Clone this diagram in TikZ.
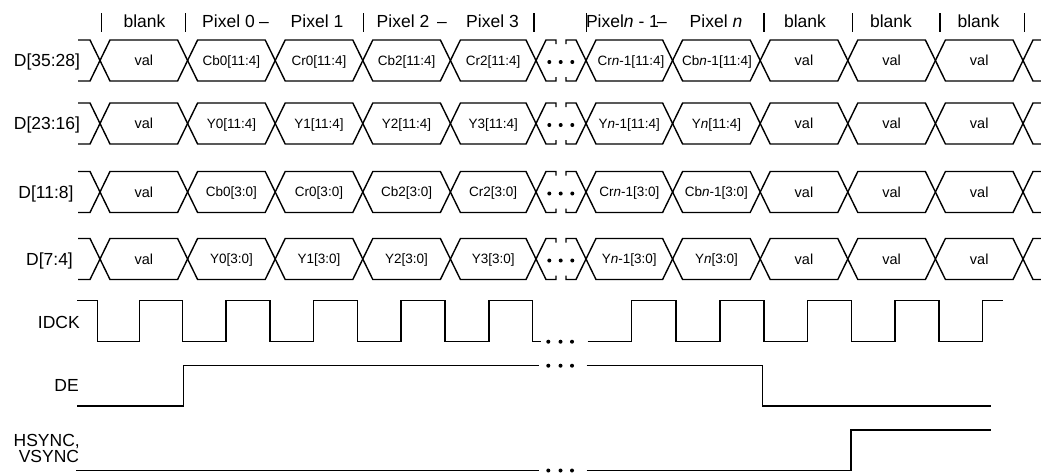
\documentclass[tikz,border=0pt]{standalone}
\usepackage{fontspec}
\setmainfont{Liberation Sans}
\begin{document}
\begin{tikzpicture}[x=1pt,y=-1pt,
  sig/.style={line width=1.5pt, line join=miter},
  bus/.style={line width=1.4pt, line join=miter},
  bar/.style={line width=1.4pt},
  hdr/.style={font=\fontsize{17.5}{20}\selectfont, anchor=base, inner sep=0pt},
  lbl/.style={font=\fontsize{17.5}{20}\selectfont, anchor=base, inner sep=0pt},
  cell/.style={font=\fontsize{13.5}{16}\selectfont, anchor=base, inner sep=0pt},
  valcell/.style={font=\fontsize{14.5}{16}\selectfont, anchor=base, inner sep=0pt}]
\useasboundingbox (0,0) rectangle (1041,472);

% ---------- header ----------
\foreach \bx in {101.7,185.3,363.3,534,586.7,764,852.7,940,1024.3}
  \draw[bar] (\bx,13) -- (\bx,32);
\node[hdr] (h1) at (144.5,27) {blank};
\node[hdr] (h2) at (228.5,27) {Pixel 0};
\node[hdr] (h3) at (264,27) {–};
\node[hdr] (h4) at (317,27) {Pixel 1};
\node[hdr] (h5) at (403,27) {Pixel 2};
\node[hdr] (h6) at (442,27) {–};
\node[hdr] (h7) at (492.5,27) {Pixel 3};
\node[hdr] (h8) at (622.5,27) {Pixel\textit{n} - 1};
\node[hdr] (h9) at (662,27) {–};
\node[hdr] (h10) at (716,27) {Pixel \textit{n}};
\node[hdr] (h11) at (805,27) {blank};
\node[hdr] (h12) at (891,27) {blank};
\node[hdr] (h13) at (978.5,27) {blank};

% ---------- bus rows ----------
\foreach \yc in {60.5,123.5,192,259} {
  \draw[bus] (78,\yc-20.5) -- (90,\yc-20.5) -- (100,\yc) -- (90,\yc+20.5) -- (78,\yc+20.5);
  \foreach \a/\c in {100/187.6,187.6/275.2,275.2/362.8,362.8/450.4,450.4/536,
                     586/672.6,672.6/760.2,760.2/847.8,847.8/935.4,935.4/1023}
    \draw[bus] (\a,\yc) -- (\a+10,\yc-20.5) -- (\c-10,\yc-20.5) -- (\c,\yc)
               -- (\c-10,\yc+20.5) -- (\a+10,\yc+20.5) -- cycle;
  \draw[bus] (536,\yc) -- (546,\yc-20.5) -- (556,\yc-20.5) -- (556,\yc-16.5);
  \draw[bus] (536,\yc) -- (546,\yc+20.5) -- (556,\yc+20.5) -- (556,\yc+16.5);
  \draw[bus] (566,\yc-16.5) -- (566,\yc-20.5) -- (576,\yc-20.5) -- (586,\yc);
  \draw[bus] (566,\yc+16.5) -- (566,\yc+20.5) -- (576,\yc+20.5) -- (586,\yc);
  \draw[bus] (1041,\yc-20.5) -- (1033,\yc-20.5) -- (1023,\yc) -- (1033,\yc+20.5) -- (1041,\yc+20.5);
  \foreach \dx in {549.3,560.7,572.3}
    \fill (\dx,\yc+1.5) circle (2);
}

% row labels
\node[lbl] (lD1) at (47,60.5+6.3) {D[35:28]};
\node[lbl] (lD2) at (47,123.5+6.3) {D[23:16]};
\node[lbl] (lD3) at (46,192+6.3) {D[11:8]};
\node[lbl] (lD4) at (49.5,259+6.3) {D[7:4]};
\node[lbl, anchor=base east] (lCK) at (80,322+6.3) {IDCK};
\node[lbl, anchor=base east] (lDE) at (79,385.5+6.3) {DE};
\node[lbl, anchor=base east] (lHS) at (80,440+6.3) {HSYNC,};
\node[lbl, anchor=base east] (lVS) at (79.3,456+6.3) {VSYNC};

% cell labels
\foreach \yc/\r in {60.5/a,123.5/b,192/c,259/d}
  \foreach \m [count=\i from 8] in {804,891.6,979.2} {
    \node[valcell] (\r\i) at (\m,\yc+5) {val};
  }
\foreach \yc/\r in {60.5/a,123.5/b,192/c,259/d}
  \node[valcell] (\r1) at (143.8,\yc+5) {val};
\foreach \m/\s [count=\i from 2] in {231.4/{Cb0[11:4]},319/{Cr0[11:4]},406.6/{Cb2[11:4]},493.2/{Cr2[11:4]},
  631/{Cr\textit{n}-1[11:4]},717/{Cb\textit{n}-1[11:4]}}
  \node[cell] (a\i) at (\m,60.5+4.8) {\s};
\foreach \m/\s [count=\i from 2] in {231.4/{Y0[11:4]},319/{Y1[11:4]},406.6/{Y2[11:4]},493.2/{Y3[11:4]},
  629.3/{Y\textit{n}-1[11:4]},716.4/{Y\textit{n}[11:4]}}
  \node[cell] (b\i) at (\m,123.5+4.8) {\s};
\foreach \m/\s [count=\i from 2] in {231.4/{Cb0[3:0]},319/{Cr0[3:0]},406.6/{Cb2[3:0]},493.2/{Cr2[3:0]},
  629.3/{Cr\textit{n}-1[3:0]},716.4/{Cb\textit{n}-1[3:0]}}
  \node[cell] (c\i) at (\m,192+4.8) {\s};
\foreach \m/\s [count=\i from 2] in {231.4/{Y0[3:0]},319/{Y1[3:0]},406.6/{Y2[3:0]},493.2/{Y3[3:0]},
  629.3/{Y\textit{n}-1[3:0]},716.4/{Y\textit{n}[3:0]}}
  \node[cell] (d\i) at (\m,259+4.8) {\s};

% ---------- IDCK ----------
\def\H{300.7}\def\L{341.7}
\draw[sig] (77,\H) -| (97.7,\L) -| (139.3,\H) -| (182.7,\L) -| (226,\H) -| (270,\L)
  -| (313.3,\H) -| (357.7,\L) -| (401,\H) -| (445,\L) -| (489,\H) -| (532.3,\L) -- (540.7,\L);
\draw[sig] (587.7,\L) -| (631.7,\H) -| (676,\L) -| (720,\H) -| (764,\L) -| (807.7,\H)
  -| (851.7,\L) -| (895,\H) -| (939,\L) -| (982.7,\H) -- (1003.3,\H);
\foreach \dx in {548.3,560.5,572}
  \fill (\dx,\L) circle (2);

% ---------- DE ----------
\draw[sig] (77,406) -| (183.7,365.7) -- (539,365.7);
\draw[sig] (586.7,365.7) -| (762.7,406) -- (991,406);
\foreach \dx in {548.3,560.5,572}
  \fill (\dx,365.7) circle (2);

% ---------- HSYNC / VSYNC ----------
\draw[sig] (76,470.5) -- (539,470.5);
\draw[sig] (586.7,470.5) -| (851,430) -- (991,430);
\foreach \dx in {548.3,560.5,572}
  \fill (\dx,470.5) circle (2);
\end{tikzpicture}
\end{document}
